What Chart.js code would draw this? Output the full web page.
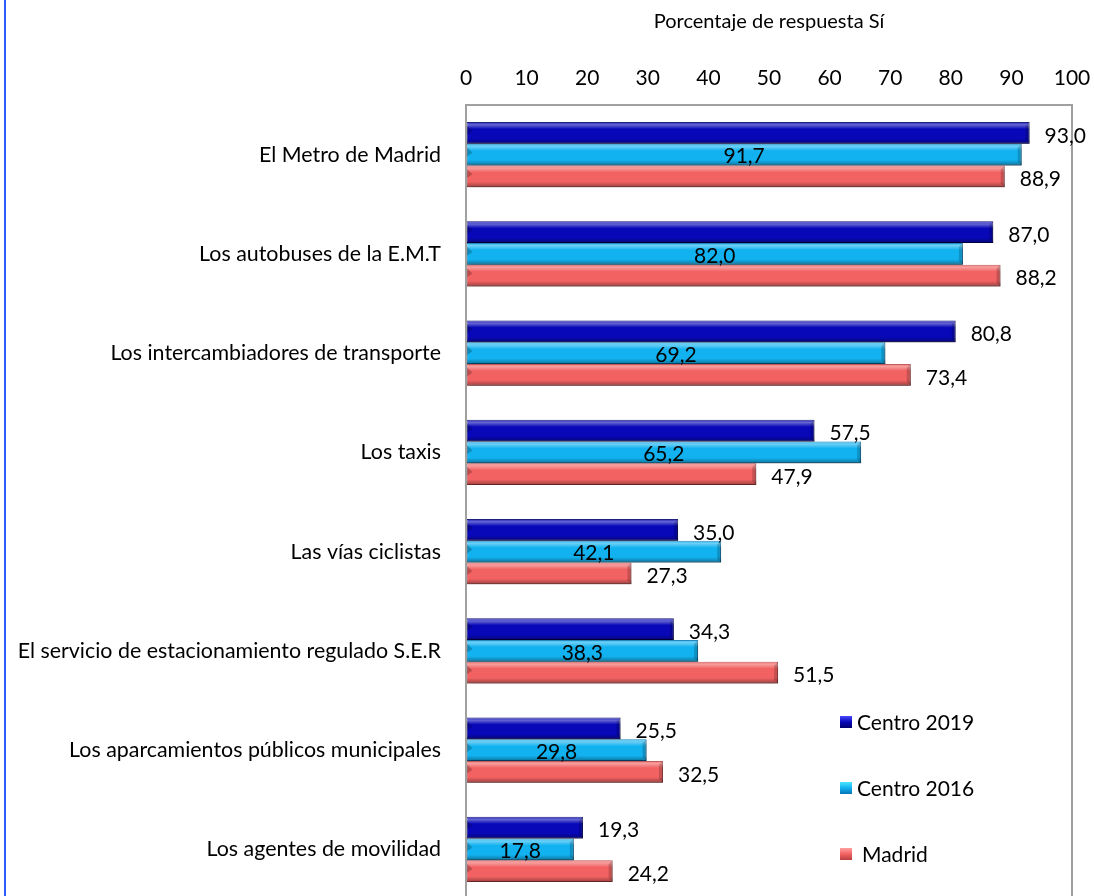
<!DOCTYPE html>
<html><head><meta charset="utf-8">
<script src="https://cdn.jsdelivr.net/npm/chart.js@4.4.0/dist/chart.umd.min.js"></script>
<style>
html,body{margin:0;padding:0;background:#fff;overflow:hidden;}
#wrap{position:relative;width:1094px;height:896px;overflow:hidden;}
#line{position:absolute;left:4px;top:0;width:2px;height:896px;background:#2a5cff;}
canvas{position:absolute;left:0;top:0;}
</style></head><body>
<div id="wrap"><canvas id="c" width="1094" height="912" style="width:1094px;height:912px"></canvas><div id="line"></div></div>
<script>
const categories = [
  'El Metro de Madrid',
  'Los autobuses de la E.M.T',
  'Los intercambiadores de transporte',
  'Los taxis',
  'Las vías ciclistas',
  'El servicio de estacionamiento regulado S.E.R',
  'Los aparcamientos públicos municipales',
  'Los agentes de movilidad'
];
const centro2019 = [93.0, 87.0, 80.8, 57.5, 35.0, 34.3, 25.5, 19.3];
const centro2016 = [91.7, 82.0, 69.2, 65.2, 42.1, 38.3, 29.8, 17.8];
const madrid     = [88.9, 88.2, 73.4, 47.9, 27.3, 51.5, 32.5, 24.2];
const seriesNames = ['Centro 2019', 'Centro 2016', 'Madrid'];
const axisTitle = 'Porcentaje de respuesta Sí';

const FONT = 'Lato';
const colors = [
  {main:'#0808b8', light:'#4a4aff', dark:'#00006e'},
  {main:'#12b2f0', light:'#4be6ff', dark:'#0575b5'},
  {main:'#f26262', light:'#ffa0a0', dark:'#b84040'}
];
const fmt = v => v.toFixed(1).replace('.', ',');

const barStyle = {
  id: 'barStyle',
  beforeDatasetDraw(chart) {
    const c = chart.ctx; c.save();
    c.shadowColor = 'rgba(0,0,0,0.28)'; c.shadowBlur = 4; c.shadowOffsetY = 3; c.shadowOffsetX = 1;
  },
  afterDatasetDraw(chart, args) {
    const c = chart.ctx; c.restore();
    const meta = args.meta;
    meta.data.forEach(el => {
      const h = el.height, top = el.y - h/2, left = Math.min(el.base, el.x), w = Math.abs(el.x - el.base);
      const g = c.createLinearGradient(0, top, 0, top + h);
      g.addColorStop(0, 'rgba(255,255,255,0.10)');
      g.addColorStop(0.12, 'rgba(255,255,255,0.38)');
      g.addColorStop(0.32, 'rgba(255,255,255,0.0)');
      g.addColorStop(0.75, 'rgba(0,0,0,0.0)');
      g.addColorStop(1, 'rgba(0,0,0,0.35)');
      c.save();
      c.fillStyle = g;
      c.fillRect(left, top, w, h);
      c.fillStyle = 'rgba(0,0,0,0.18)';
      c.beginPath(); c.moveTo(left + w, top); c.lineTo(left + w - 4, top + 4); c.lineTo(left + w - 4, top + h - 4); c.lineTo(left + w, top + h); c.closePath(); c.fill();
      c.fillStyle = 'rgba(0,0,0,0.22)';
      c.beginPath(); c.moveTo(left, top + 3); c.lineTo(left + 6, top + h/2 - 2); c.lineTo(left, top + h/2 + 2); c.closePath(); c.fill();
      c.restore();
    });
  }
};

const frame = {
  id: 'frame',
  afterDatasetsDraw(chart) {
    const a = chart.chartArea, c = chart.ctx;
    c.save();
    c.strokeStyle = '#a0a0a0'; c.lineWidth = 2;
    c.strokeRect(a.left, a.top, a.right - a.left, a.bottom - a.top);
    c.restore();
  }
};

const labels = {
  id: 'labels',
  afterDatasetsDraw(chart) {
    const c = chart.ctx;
    c.save();
    c.font = '21px ' + FONT; c.fillStyle = '#000'; c.textBaseline = 'middle';
    chart.data.datasets.forEach((ds, di) => {
      const meta = chart.getDatasetMeta(di);
      meta.data.forEach((el, i) => {
        const t = fmt(ds.data[i]);
        if (di === 1) { c.textAlign = 'center'; c.fillText(t, (el.base + el.x) / 2, el.y + 2); }
        else { c.textAlign = 'left'; c.fillText(t, el.x + 15, el.y + 3); }
      });
    });
    c.restore();
  }
};

const legendBox = {
  id: 'legendBox',
  afterDraw(chart) {
    const c = chart.ctx;
    const ys = [722, 788, 854];
    c.save();
    c.font = '21px ' + FONT; c.textBaseline = 'middle'; c.textAlign = 'left';
    chart.data.datasets.forEach((ds, i) => {
      const y = ys[i], x = 840, s = 12;
      const g = c.createLinearGradient(0, y - s/2, 0, y + s/2);
      g.addColorStop(0, colors[i].light); g.addColorStop(0.5, colors[i].main); g.addColorStop(1, colors[i].dark);
      c.fillStyle = g; c.fillRect(x, y - s/2, s, s);
      c.fillStyle = '#000';
      c.fillText(ds.label, i === 2 ? 862 : 857, y + 1);
    });
    c.restore();
  }
};

const tickFont = {family: FONT, size: 21};
const hidden = 'rgba(0,0,0,0)';
new Chart(document.getElementById('c'), {
  type: 'bar',
  data: {
    labels: categories,
    datasets: [
      {label: seriesNames[0], data: centro2019, backgroundColor: colors[0].main, borderColor: colors[0].dark, borderWidth: 1, borderSkipped: false},
      {label: seriesNames[1], data: centro2016, backgroundColor: colors[1].main, borderColor: colors[1].dark, borderWidth: 1, borderSkipped: false},
      {label: seriesNames[2], data: madrid, backgroundColor: colors[2].main, borderColor: colors[2].dark, borderWidth: 1, borderSkipped: false}
    ]
  },
  options: {
    indexAxis: 'y',
    responsive: false,
    animation: false,
    devicePixelRatio: 1,
    datasets: {bar: {barPercentage: 1, categoryPercentage: 0.655}},
    layout: {padding: {top: 0, right: 22, bottom: 13, left: 0}},
    plugins: {legend: {display: false}, tooltip: {enabled: false}},
    scales: {
      x: {
        position: 'top', min: 0, max: 100,
        ticks: {stepSize: 10, font: tickFont, color: '#000', padding: 0},
        grid: {display: true, drawOnChartArea: false, drawTicks: true, tickLength: 14, tickColor: hidden, color: hidden},
        border: {display: false},
        title: {display: true, text: axisTitle, font: {family: FONT, size: 20}, color: '#000', padding: {top: 10, bottom: 0}},
        afterFit(s) { s.height = 105; }
      },
      y: {
        ticks: {font: {family: FONT, size: 21.4}, color: '#000', padding: 0},
        grid: {display: true, drawOnChartArea: false, drawTicks: true, tickLength: 25, tickColor: hidden, color: hidden},
        border: {display: false},
        afterFit(s) { s.width = 466; }
      }
    }
  },
  plugins: [barStyle, frame, labels, legendBox]
});
</script>
</body></html>
